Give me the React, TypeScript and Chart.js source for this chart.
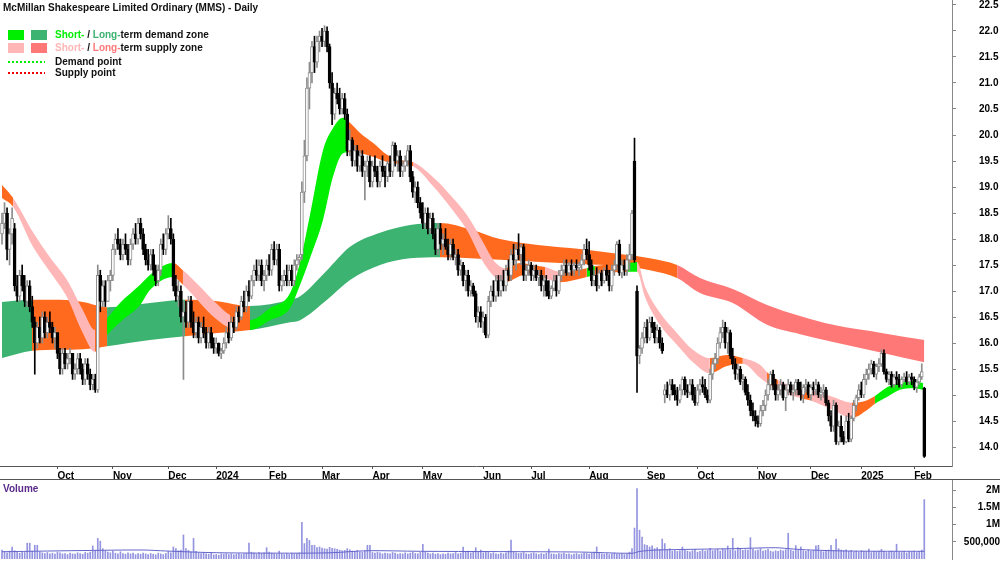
import { useEffect, useRef } from 'react';
import { Chart, registerables } from 'chart.js';

Chart.register(...registerables);

const titleText = 'McMillan Shakespeare Limited Ordinary (MMS) - Daily';

// month ticks (trading-day index of first session of month)
const monthTickIdx = [22, 44, 66, 85, 106, 127, 147, 167, 191, 210, 233, 256, 276, 300, 321, 341, 362];
const monthLabels = ['Oct', 'Nov', 'Dec', '2024', 'Feb', 'Mar', 'Apr', 'May', 'Jun', 'Jul', 'Aug', 'Sep', 'Oct', 'Nov', 'Dec', '2025', 'Feb'];

// volume axis ticks
const volumeTicks = [500000, 1000000, 1500000, 2000000];

// daily candles (index 0 = first session shown)
const opens = [
  18.1,18.3,18.5,17.8,18.1,18.2,17.1,16.9,17.3,17.1,
  16.8,17.1,16.7,16.4,16.0,16.3,16.1,16.5,16.2,16.4,
  16.3,16.1,16.2,15.8,15.5,15.8,15.6,15.7,15.8,15.4,
  15.5,15.7,15.5,15.3,15.6,15.4,15.2,15.3,15.1,17.3,
  16.8,17.1,16.8,17.2,17.3,17.8,18.0,17.9,17.7,17.9,
  17.8,17.6,17.9,18.1,18.0,18.3,18.1,17.8,17.6,17.5,
  17.7,17.4,17.2,17.4,17.9,17.8,18.1,18.2,18.0,17.1,
  16.9,17.0,16.5,16.6,16.4,16.8,16.4,16.2,16.4,16.1,
  16.3,16.2,16.0,16.2,16.0,15.9,16.0,15.8,15.85,16.0,
  16.2,16.1,16.4,16.3,16.6,16.5,16.8,16.7,17.0,16.9,
  17.2,17.4,17.3,17.5,17.2,17.3,17.5,17.4,17.8,17.6,
  17.8,17.1,17.2,17.3,17.2,17.4,17.2,17.5,17.6,17.7,
  18.9,19.6,20.9,21.2,21.7,21.4,21.8,21.9,21.8,22.0,
  21.7,21.0,20.4,20.8,20.7,20.5,20.7,20.4,19.7,19.9,
  19.5,19.7,19.4,19.6,19.3,19.4,19.5,19.1,19.4,19.3,
  19.1,19.4,19.3,19.2,19.45,19.3,19.8,19.5,19.6,19.3,
  19.4,19.5,19.7,19.2,18.9,19.0,18.7,18.5,18.3,18.5,
  18.2,18.4,18.1,17.8,18.2,17.9,18.0,17.85,17.7,17.9,
  17.65,17.7,17.4,17.5,17.2,17.3,17.0,17.1,16.95,16.5,
  16.6,16.4,16.5,16.15,16.8,17.0,16.9,17.2,17.0,17.2,
  17.1,17.4,17.3,17.7,17.6,17.8,17.7,17.85,17.3,17.4,
  17.5,17.3,17.4,17.25,17.3,17.1,17.2,17.0,16.9,17.05,
  17.2,17.0,17.3,17.4,17.5,17.35,17.5,17.4,17.5,17.45,
  17.5,17.6,17.8,17.7,17.5,17.2,17.3,17.1,17.35,17.2,
  17.4,17.3,17.1,17.4,17.5,17.9,17.35,17.5,17.4,17.6,
  17.7,19.5,17.0,15.75,15.9,16.1,16.3,16.1,16.4,16.3,
  16.1,16.25,16.0,15.0,15.1,15.0,15.2,15.1,15.0,14.9,
  15.1,15.3,15.1,15.05,15.2,15.0,14.85,15.1,15.2,15.15,
  15.0,14.9,15.4,15.6,15.7,16.0,16.2,16.3,16.0,16.2,
  15.75,15.6,15.4,15.5,15.25,15.3,15.05,14.9,14.7,14.6,
  14.5,14.45,14.7,14.8,15.0,15.2,15.4,15.2,15.0,15.1,
  15.2,14.95,15.1,15.2,15.05,15.1,15.25,15.1,15.0,15.15,
  15.2,15.0,15.15,15.1,15.2,15.0,15.05,15.1,14.85,14.6,
  14.4,14.8,14.1,14.4,14.2,14.1,14.5,14.15,14.55,14.8,
  14.95,15.1,15.0,15.3,15.4,15.5,15.6,15.4,15.55,15.6,
  15.8,15.45,15.3,15.4,15.2,15.35,15.3,15.2,15.3,15.35,
  15.25,15.35,15.3,15.15,15.25,15.35,15.13
];
const highs = [
  18.5,18.7,18.6,18.2,18.6,18.3,17.3,17.4,17.5,17.3,
  17.2,17.2,16.9,16.5,16.4,16.5,16.6,16.6,16.5,16.6,
  16.4,16.3,16.2,15.9,15.9,15.9,15.8,15.9,15.8,15.6,
  15.8,15.8,15.6,15.7,15.7,15.5,15.4,15.4,17.5,17.4,
  17.2,17.2,17.3,17.4,17.9,18.1,18.2,18.0,18.0,18.1,
  17.9,18.0,18.2,18.3,18.4,18.4,18.2,17.9,17.8,17.8,
  17.8,17.5,17.5,18.0,18.1,18.2,18.45,18.4,18.1,17.3,
  17.2,17.1,16.8,16.8,16.9,16.9,16.6,16.5,16.5,16.4,
  16.5,16.3,16.3,16.3,16.1,16.1,16.0,15.9,16.1,16.3,
  16.4,16.5,16.5,16.7,16.7,16.9,17.0,17.1,17.2,17.3,
  17.5,17.6,17.6,17.6,17.4,17.6,17.7,17.9,17.95,17.9,
  17.9,17.3,17.4,17.5,17.5,17.5,17.6,17.7,17.7,19.1,
  19.9,21.1,21.4,21.8,21.9,21.9,22.0,22.05,22.1,22.08,
  21.75,21.2,20.9,21.0,20.9,20.8,20.8,20.5,20.1,19.95,
  19.8,19.8,19.7,19.7,19.5,19.6,19.6,19.5,19.6,19.4,
  19.5,19.6,19.4,19.5,19.6,19.87,19.85,19.7,19.7,19.5,
  19.6,19.8,19.8,19.3,19.1,19.1,18.8,18.7,18.6,18.6,
  18.5,18.5,18.2,18.3,18.3,18.1,18.2,18.0,18.0,18.0,
  17.8,17.8,17.6,17.55,17.4,17.4,17.2,17.15,17.0,16.7,
  16.7,16.6,16.55,16.9,17.1,17.2,17.3,17.3,17.3,17.4,
  17.5,17.6,17.8,17.9,17.9,18.1,17.9,17.9,17.5,17.6,
  17.55,17.5,17.5,17.4,17.4,17.3,17.3,17.2,17.1,17.3,
  17.3,17.4,17.5,17.6,17.6,17.55,17.6,17.55,17.6,17.55,
  17.7,17.9,18.0,17.95,17.6,17.4,17.45,17.4,17.4,17.45,
  17.5,17.4,17.5,17.6,17.95,17.98,17.6,17.6,17.7,17.9,
  18.55,19.94,17.1,15.95,16.2,16.4,16.45,16.5,16.5,16.4,
  16.35,16.3,16.1,15.2,15.25,15.3,15.3,15.2,15.15,15.2,
  15.35,15.35,15.2,15.3,15.3,15.15,15.2,15.3,15.35,15.3,
  15.1,15.5,15.7,15.8,16.1,16.3,16.44,16.4,16.3,16.25,
  15.9,15.7,15.6,15.55,15.4,15.35,15.2,15.0,14.85,14.7,
  14.6,14.8,14.9,15.1,15.3,15.45,15.48,15.3,15.2,15.3,
  15.25,15.2,15.3,15.25,15.2,15.3,15.3,15.25,15.2,15.3,
  15.25,15.2,15.25,15.3,15.25,15.15,15.2,15.15,14.9,14.7,
  14.9,14.85,14.5,14.6,14.3,14.6,14.65,14.6,14.9,15.0,
  15.2,15.25,15.4,15.5,15.6,15.67,15.65,15.6,15.7,15.87,
  15.87,15.5,15.45,15.45,15.4,15.45,15.4,15.35,15.42,15.45,
  15.4,15.42,15.35,15.3,15.4,15.6,15.15
];
const lows = [
  17.9,18.2,17.6,17.5,17.9,17.0,16.8,16.8,17.0,16.7,
  16.7,16.6,16.3,15.4,15.9,16.0,16.0,16.1,16.1,16.2,
  16.0,15.9,15.7,15.4,15.4,15.5,15.5,15.6,15.3,15.3,
  15.4,15.4,15.2,15.2,15.3,15.1,15.1,15.05,15.05,16.6,
  16.7,16.7,16.8,17.0,17.2,17.7,17.8,17.6,17.6,17.7,
  17.5,17.5,17.8,17.9,17.9,18.0,17.7,17.5,17.4,17.4,
  17.3,17.1,17.1,17.3,17.7,17.7,18.0,17.9,17.0,16.8,
  16.7,16.4,15.3,16.3,16.3,16.3,16.1,16.1,16.0,16.0,
  16.1,15.9,15.9,15.9,15.8,15.8,15.75,15.7,15.8,15.9,
  16.0,16.05,16.2,16.25,16.4,16.45,16.6,16.6,16.8,16.85,
  17.1,17.2,17.2,17.1,17.0,17.2,17.3,17.3,17.5,17.5,
  17.0,17.0,17.1,17.1,17.1,17.1,17.1,17.4,17.5,17.6,
  18.7,19.5,20.5,21.0,21.2,21.3,21.6,21.7,21.7,21.6,
  20.9,20.2,20.3,20.6,20.4,20.4,20.3,19.6,19.6,19.4,
  19.4,19.3,19.3,19.2,18.75,19.2,19.0,19.0,19.2,19.0,
  19.0,19.2,19.0,19.1,19.2,19.2,19.4,19.3,19.2,19.2,
  19.3,19.4,19.1,18.8,18.7,18.6,18.4,18.2,18.2,18.1,
  18.1,18.0,17.7,17.7,17.8,17.7,17.8,17.6,17.6,17.6,
  17.5,17.3,17.3,17.1,17.0,16.9,16.9,16.9,16.4,16.3,
  16.3,16.2,16.1,16.1,16.7,16.8,16.8,16.9,16.9,17.0,
  17.0,17.2,17.2,17.5,17.4,17.6,17.5,17.2,17.2,17.3,
  17.2,17.2,17.2,17.1,17.0,16.9,16.9,16.85,16.85,17.0,
  16.9,16.95,17.2,17.3,17.3,17.3,17.3,17.3,17.4,17.3,
  17.4,17.5,17.6,17.4,17.1,17.1,17.0,17.05,17.1,17.15,
  17.2,17.0,17.0,17.3,17.4,17.3,17.25,17.3,17.3,17.4,
  17.6,17.55,15.05,15.6,15.8,16.0,16.0,16.05,16.2,16.0,
  16.0,15.9,15.8,14.85,14.95,14.9,15.0,14.9,14.8,14.85,
  15.0,15.0,14.95,15.0,14.9,14.8,14.8,15.0,15.05,14.95,
  14.85,14.85,15.3,15.5,15.6,15.9,16.1,15.9,15.8,15.7,
  15.5,15.3,15.3,15.2,15.1,15.0,14.8,14.6,14.5,14.4,
  14.38,14.4,14.6,14.7,14.9,15.1,15.1,14.9,14.9,15.0,
  14.9,14.7,15.0,15.0,14.9,15.0,15.0,14.9,14.85,15.05,
  14.95,14.9,15.0,15.0,14.95,14.9,14.95,14.8,14.5,14.3,
  14.3,14.05,14.04,14.1,14.05,14.08,14.1,14.1,14.5,14.7,
  14.9,14.95,14.95,15.2,15.3,15.4,15.35,15.3,15.45,15.55,
  15.4,15.25,15.2,15.15,15.15,15.2,15.15,15.15,15.25,15.2,
  15.2,15.2,15.1,15.05,15.2,15.3,13.8
];
const closes = [
  18.3,18.5,17.8,18.1,18.4,17.1,16.9,17.3,17.1,16.8,
  17.1,16.7,16.4,16.0,16.3,16.1,16.5,16.2,16.4,16.3,
  16.1,16.2,15.8,15.5,15.8,15.6,15.7,15.8,15.4,15.5,
  15.7,15.5,15.3,15.6,15.4,15.2,15.3,15.1,17.3,16.8,
  17.1,16.8,17.2,17.3,17.8,18.0,17.9,17.7,17.9,17.8,
  17.6,17.9,18.1,18.0,18.3,18.1,17.8,17.6,17.5,17.7,
  17.4,17.2,17.4,17.9,17.8,18.1,18.2,18.0,17.1,16.9,
  17.0,16.5,16.6,16.4,16.8,16.4,16.2,16.4,16.1,16.3,
  16.2,16.0,16.2,16.0,15.9,16.0,15.8,15.85,16.0,16.2,
  16.1,16.4,16.3,16.6,16.5,16.8,16.7,17.0,16.9,17.2,
  17.4,17.3,17.5,17.2,17.3,17.5,17.4,17.8,17.6,17.8,
  17.1,17.2,17.3,17.2,17.4,17.2,17.5,17.6,17.65,18.9,
  19.6,20.9,21.2,21.7,21.4,21.8,21.9,21.8,22.0,21.7,
  21.0,20.4,20.8,20.7,20.5,20.7,20.4,19.7,19.9,19.5,
  19.7,19.4,19.6,19.3,19.4,19.5,19.1,19.4,19.3,19.1,
  19.4,19.3,19.2,19.45,19.3,19.8,19.5,19.6,19.3,19.4,
  19.5,19.7,19.2,18.9,19.0,18.7,18.5,18.3,18.5,18.2,
  18.4,18.1,17.8,18.2,17.9,18.0,17.85,17.7,17.9,17.65,
  17.7,17.4,17.5,17.2,17.3,17.0,17.1,16.95,16.5,16.6,
  16.4,16.5,16.15,16.8,17.0,16.9,17.2,17.0,17.2,17.1,
  17.4,17.3,17.7,17.6,17.8,17.7,17.85,17.3,17.4,17.5,
  17.3,17.4,17.25,17.3,17.1,17.2,17.0,16.9,17.05,17.2,
  17.0,17.3,17.4,17.5,17.35,17.5,17.4,17.5,17.45,17.5,
  17.6,17.8,17.7,17.5,17.2,17.3,17.1,17.35,17.2,17.4,
  17.3,17.1,17.4,17.5,17.9,17.35,17.5,17.4,17.6,17.7,
  18.5,17.6,15.75,15.9,16.1,16.3,16.1,16.4,16.3,16.1,
  16.25,16.0,15.85,15.1,15.0,15.2,15.1,15.0,14.9,15.1,
  15.3,15.1,15.05,15.2,15.0,14.85,15.1,15.2,15.15,15.0,
  14.9,15.4,15.6,15.7,16.0,16.2,16.3,16.0,16.2,15.75,
  15.6,15.4,15.5,15.25,15.3,15.05,14.9,14.7,14.6,14.5,
  14.45,14.7,14.8,15.0,15.2,15.4,15.2,15.0,15.1,15.2,
  14.95,15.1,15.2,15.05,15.1,15.25,15.1,15.0,15.15,15.2,
  15.0,15.15,15.1,15.2,15.0,15.05,15.1,14.85,14.6,14.4,
  14.8,14.1,14.4,14.2,14.1,14.5,14.15,14.55,14.8,14.95,
  15.1,15.0,15.3,15.4,15.5,15.6,15.4,15.55,15.6,15.8,
  15.45,15.3,15.4,15.2,15.35,15.3,15.2,15.3,15.35,15.25,
  15.35,15.3,15.15,15.25,15.35,15.45,13.82
];

// daily volume, thousands of shares
const volumeThousands = [
  260,210,180,230,350,240,200,170,220,190,
  460,460,230,400,400,210,180,160,190,150,
  170,140,200,180,150,160,130,170,150,140,
  180,160,140,190,170,200,380,250,600,520,
  300,240,200,180,230,170,150,210,160,140,
  180,150,170,130,160,140,170,150,130,160,
  140,120,170,150,130,160,220,180,350,300,
  240,260,700,300,250,210,600,220,180,160,
  190,150,140,170,120,130,110,150,140,160,
  130,150,120,140,160,130,150,170,460,200,
  170,150,190,160,180,330,200,170,150,140,
  230,150,130,160,140,170,150,160,180,1070,
  450,600,540,400,400,330,350,320,300,290,
  340,310,300,280,260,240,250,300,270,230,
  220,250,210,200,230,400,400,190,170,200,
  180,150,170,160,150,190,170,140,160,150,
  180,150,170,200,160,150,190,430,200,170,
  150,170,140,160,130,150,140,170,150,160,
  190,150,170,350,200,230,180,210,330,200,
  260,180,210,190,160,180,150,140,170,150,
  180,230,550,200,180,160,170,190,150,140,
  160,180,150,130,160,140,170,290,150,140,
  130,160,150,170,140,150,120,140,160,130,
  150,170,160,140,180,200,350,170,150,140,
  160,130,150,170,140,150,160,130,150,200,
  300,900,2050,840,640,420,400,350,380,300,
  330,280,580,450,260,300,230,250,220,240,
  350,260,230,210,240,280,200,220,260,230,
  250,310,240,260,280,230,300,270,380,260,
  600,240,330,300,250,270,260,620,280,240,
  260,300,230,250,280,230,210,240,220,260,
  240,270,750,260,230,390,280,350,240,220,
  260,230,250,380,400,230,210,240,260,400,
  250,580,300,260,240,270,220,250,200,230,
  200,240,220,210,290,190,220,210,230,280,
  220,190,210,230,200,430,200,190,220,180,
  210,200,230,190,220,260,1730
];

// volume average line, read at knots (index, thousands)
const volumeAvgIdx = [0, 36, 56, 65, 85, 118, 131, 145, 166, 229, 250, 253, 260, 290, 307, 314, 321, 337, 366];
const volumeAvgThousands = [212, 250, 262, 233, 183, 170, 183, 241, 224, 203, 166, 220, 262, 300, 328, 290, 262, 230, 224];

// long-term zone edges at knots
const longZoneIdx = [0, 11.9, 23, 32.1, 41.7, 58.7, 72.6, 84.5, 98.4, 114.3, 118.3, 129, 138.1, 150, 161.9, 173.8, 185.7, 197.6, 213.5, 229.4, 245.2, 257.1, 267.9, 277, 290, 303.6, 316.7, 329.8, 349.6, 366];
const longZoneUpper = [16.79, 16.83, 16.83, 16.79, 16.69, 16.77, 16.83, 16.81, 16.71, 16.83, 16.9, 17.4, 17.85, 18.12, 18.27, 18.31, 18.19, 18.0, 17.88, 17.81, 17.71, 17.63, 17.5, 17.25, 17.04, 16.73, 16.52, 16.35, 16.19, 16.06];
const longZoneLower = [15.71, 15.85, 15.87, 15.88, 15.94, 16.06, 16.13, 16.19, 16.25, 16.4, 16.44, 16.83, 17.21, 17.5, 17.63, 17.65, 17.63, 17.6, 17.56, 17.52, 17.48, 17.4, 17.25, 16.96, 16.77, 16.35, 16.17, 16.02, 15.81, 15.63];
const longZoneState = ['demand', 'mixed', 'mixed', 'mixed', 'demand', 'demand', 'mixed', 'mixed', 'demand', 'demand', 'demand', 'demand', 'demand', 'demand', 'demand', 'mixed', 'mixed', 'mixed', 'mixed', 'mixed', 'mixed', 'mixed', 'supply', 'supply', 'supply', 'supply', 'supply', 'supply', 'supply'];

// short-term zone edges at knots
const shortZoneIdx = [0, 4.4, 12.3, 19.0, 25.8, 32.1, 36.9, 41.7, 46.8, 54.8, 58.7, 67.9, 71.8, 78.6, 84.5, 90.5, 98.4, 106.3, 114.3, 118.3, 122.2, 127.4, 131.3, 135.3, 137.3, 142.1, 147.2, 152.8, 157.9, 163.1, 171.0, 177.8, 184.5, 190.9, 195.6, 199.6, 205.6, 210.7, 215.5, 221.4, 232.1, 235.3, 248.4, 252.0, 255.2, 261.1, 267.9, 274.2, 280.9, 287.7, 294.0, 300.8, 303.6, 307.9, 316.7, 320.6, 329.8, 337.3, 343.3, 346.4, 351.2, 356.3, 361.5, 365.5];
const shortZoneUpper = [19.04, 18.79, 18.13, 17.65, 17.21, 16.63, 16.25, 16.48, 16.77, 17.12, 17.31, 17.54, 17.4, 17.08, 16.79, 16.54, 16.44, 16.67, 16.96, 17.56, 18.46, 19.71, 20.13, 20.33, 20.27, 20.04, 19.85, 19.62, 19.52, 19.48, 19.19, 18.85, 18.46, 17.94, 17.56, 17.44, 17.54, 17.5, 17.46, 17.37, 17.44, 17.48, 17.54, 17.56, 17.08, 16.58, 16.19, 15.87, 15.71, 15.77, 15.71, 15.58, 15.44, 15.29, 15.13, 15.1, 14.96, 14.85, 14.9, 14.98, 15.15, 15.23, 15.27, 15.23];
const shortZoneLower = [18.79, 18.62, 17.85, 17.37, 16.88, 16.19, 15.83, 16.15, 16.4, 16.73, 17.02, 17.27, 17.12, 16.77, 16.48, 16.29, 16.25, 16.44, 16.67, 17.12, 17.63, 18.37, 19.19, 19.65, 19.67, 19.65, 19.58, 19.48, 19.44, 19.4, 19.02, 18.62, 18.17, 17.56, 17.27, 17.17, 17.29, 17.35, 17.25, 17.17, 17.27, 17.31, 17.37, 17.37, 16.88, 16.35, 15.96, 15.63, 15.42, 15.56, 15.6, 15.33, 15.23, 15.1, 14.94, 14.9, 14.71, 14.56, 14.71, 14.83, 14.96, 15.1, 15.13, 15.1];
const shortZoneState = ['mixed', 'supply', 'supply', 'supply', 'supply', 'supply', 'mixed', 'demand', 'demand', 'demand', 'demand', 'mixed', 'supply', 'supply', 'supply', 'mixed', 'demand', 'demand', 'demand', 'demand', 'demand', 'demand', 'demand', 'demand', 'mixed', 'mixed', 'mixed', 'mixed', 'mixed', 'supply', 'supply', 'supply', 'supply', 'supply', 'supply', 'mixed', 'mixed', 'mixed', 'supply', 'mixed', 'demand', 'mixed', 'demand', 'supply', 'supply', 'supply', 'supply', 'supply', 'mixed', 'mixed', 'supply', 'supply', 'mixed', 'supply', 'mixed', 'supply', 'supply', 'mixed', 'mixed', 'demand', 'demand', 'demand', 'demand'];

const legendRows = [
  { lead: 'Short-', mid: ' / ', long: 'Long-', rest: 'term demand zone' },
  { lead: 'Short-', mid: ' / ', long: 'Long-', rest: 'term supply zone' },
];
const legendLines = ['Demand point', 'Supply point'];

// ---------- styles ----------
const FONT = 'Arial, "Liberation Sans", sans-serif';
const SHORT_GREEN = '#00ee00';
const LONG_GREEN = '#3cb371';
const SHORT_PINK = '#ffb6b6';
const LONG_RED = '#ff7878';
const ORANGE = '#ff6a1e';
const shortPalette: Record<string, string> = { demand: SHORT_GREEN, supply: SHORT_PINK, mixed: ORANGE };
const longPalette: Record<string, string> = { demand: LONG_GREEN, supply: LONG_RED, mixed: ORANGE };

const X_MIN = -0.8;
const X_MAX = 377;
const PRICE_MIN = 13.635;
const PRICE_MAX = 22.596;

function zoneDatasets(idx: number[], upper: number[], lower: number[], state: string[], palette: Record<string, string>, order: number) {
  return [
    {
      type: 'line',
      data: idx.map((x, k) => ({ x, y: upper[k] })),
      fill: '+1',
      backgroundColor: palette[state[0]],
      borderColor: 'rgba(0,0,0,0)',
      borderWidth: 0,
      pointRadius: 0,
      pointHoverRadius: 0,
      cubicInterpolationMode: 'monotone',
      order,
      segment: { backgroundColor: (ctx: any) => palette[state[ctx.p0DataIndex]] },
    },
    {
      type: 'line',
      data: idx.map((x, k) => ({ x, y: lower[k] })),
      fill: false,
      borderColor: 'rgba(0,0,0,0)',
      borderWidth: 0,
      pointRadius: 0,
      pointHoverRadius: 0,
      cubicInterpolationMode: 'monotone',
      order,
    },
  ];
}

// keep the vertical axis from adding label padding above/below the plot
function fitRightAxis(s: any) {
  s.width = 48;
  s.paddingTop = 0;
  s.paddingBottom = 0;
}

const overlayPlugin = {
  id: 'overlay',
  afterDraw(chart: any) {
    const ctx = chart.ctx as CanvasRenderingContext2D;
    ctx.save();
    ctx.textBaseline = 'middle';
    ctx.font = `bold 10px ${FONT}`;
    ctx.fillStyle = '#111';
    ctx.fillText(titleText, 3, 8);

    const boxes = [[SHORT_GREEN, LONG_GREEN], [SHORT_PINK, LONG_RED]];
    legendRows.forEach((r, k) => {
      const y = 30 + k * 13;
      ctx.fillStyle = boxes[k][0];
      ctx.fillRect(8, y, 16, 10);
      ctx.fillStyle = boxes[k][1];
      ctx.fillRect(31, y, 16, 10);
      let x = 55;
      const runs: [string, string][] = [[r.lead, boxes[k][0]], [r.mid, '#111'], [r.long, boxes[k][1]], [r.rest, '#111']];
      for (const [t, c] of runs) {
        ctx.fillStyle = c;
        ctx.fillText(t, x, y + 5);
        x += ctx.measureText(t).width;
      }
    });
    const dotCols = ['#00ee00', '#ee0000'];
    legendLines.forEach((t, k) => {
      const y = 62 + k * 11;
      ctx.strokeStyle = dotCols[k];
      ctx.lineWidth = 2;
      ctx.setLineDash([2, 2]);
      ctx.beginPath();
      ctx.moveTo(8, y);
      ctx.lineTo(45, y);
      ctx.stroke();
      ctx.setLineDash([]);
      ctx.fillStyle = '#111';
      ctx.fillText(t, 55, y);
    });
    ctx.strokeStyle = '#555';
    ctx.lineWidth = 1;
    ctx.beginPath();
    ctx.moveTo(0, 479.5);
    ctx.lineTo(1000, 479.5);
    ctx.stroke();
    ctx.restore();
  },
};

const volumeLabelPlugin = {
  id: 'volLabel',
  afterDraw(chart: any) {
    const ctx = chart.ctx as CanvasRenderingContext2D;
    ctx.save();
    ctx.textBaseline = 'middle';
    ctx.font = `bold 10px ${FONT}`;
    ctx.fillStyle = '#5a2a8a';
    ctx.fillText('Volume', 3, 9);
    ctx.restore();
  },
};

export default function App() {
  const priceRef = useRef<HTMLCanvasElement>(null);
  const volRef = useRef<HTMLCanvasElement>(null);

  useEffect(() => {
    document.body.style.margin = '0';
    Chart.defaults.font.family = FONT;
    Chart.defaults.font.size = 10;
    Chart.defaults.color = '#000';

    const idx = closes.map((_, i) => i);
    const isUp = (i: number) => closes[i] >= opens[i];

    const priceChart = new Chart(priceRef.current as HTMLCanvasElement, {
      type: 'bar',
      data: {
        datasets: [
          ...(zoneDatasets(longZoneIdx, longZoneUpper, longZoneLower, longZoneState, longPalette, 20) as any[]),
          ...(zoneDatasets(shortZoneIdx, shortZoneUpper, shortZoneLower, shortZoneState, shortPalette, 10) as any[]),
          {
            type: 'bar',
            data: idx.map((i) => ({ x: i, y: [lows[i], highs[i]] })),
            backgroundColor: idx.map((i) => (isUp(i) ? '#8c8c8c' : '#000000')),
            borderWidth: 0,
            barThickness: 1,
            grouped: false,
            order: 1,
          },
          {
            type: 'bar',
            data: idx.map((i) => ({ x: i, y: [opens[i], closes[i]] })),
            backgroundColor: idx.map((i) => (isUp(i) ? '#ffffff' : '#000000')),
            borderColor: idx.map((i) => (isUp(i) ? '#8c8c8c' : '#000000')),
            borderWidth: 1,
            borderSkipped: false,
            barThickness: 3,
            minBarLength: 1,
            grouped: false,
            order: 0,
          },
        ] as any,
      },
      options: {
        responsive: false,
        animation: false,
        layout: { padding: 0, autoPadding: false },
        plugins: { legend: { display: false }, tooltip: { enabled: false } },
        scales: {
          x: {
            type: 'linear',
            min: X_MIN,
            max: X_MAX,
            offset: false,
            afterBuildTicks: (s: any) => {
              s.ticks = monthTickIdx.map((v) => ({ value: v }));
            },
            afterFit: (s: any) => {
              s.height = 14;
            },
            ticks: {
              autoSkip: false,
              maxRotation: 0,
              minRotation: 0,
              align: 'start',
              padding: 1,
              color: '#000',
              font: { size: 10, weight: 'bold' },
              callback: (_v: any, i: number) => monthLabels[i] ?? '',
            },
            grid: { offset: false, drawOnChartArea: false, drawTicks: true, tickLength: 3, color: '#555' },
            border: { display: true, color: '#555' },
          },
          y: {
            type: 'linear',
            position: 'right',
            min: PRICE_MIN,
            max: PRICE_MAX,
            afterFit: fitRightAxis,
            ticks: {
              stepSize: 0.5,
              includeBounds: false,
              padding: 23,
              color: '#000',
              font: { size: 10, weight: 'bold' },
              callback: (v: any) => Number(v).toFixed(1),
            },
            grid: { drawOnChartArea: false, tickLength: 4, color: '#888' },
            border: { display: true, color: '#888' },
          },
        },
      } as any,
      plugins: [overlayPlugin],
    });

    const volChart = new Chart(volRef.current as HTMLCanvasElement, {
      type: 'bar',
      data: {
        datasets: [
          {
            type: 'line',
            data: volumeAvgIdx.map((x, k) => ({ x, y: volumeAvgThousands[k] * 1000 })),
            borderColor: '#6464cc',
            borderWidth: 1,
            pointRadius: 0,
            pointHoverRadius: 0,
            tension: 0.3,
            fill: false,
            order: 0,
          },
          {
            type: 'bar',
            data: idx.map((i) => ({ x: i, y: volumeThousands[i] * 1000 })),
            backgroundColor: '#9494e0',
            borderWidth: 0,
            barThickness: 1,
            grouped: false,
            order: 1,
          },
        ] as any,
      },
      options: {
        responsive: false,
        animation: false,
        layout: { padding: { top: 0, bottom: 3, left: 0, right: 0 }, autoPadding: false },
        plugins: { legend: { display: false }, tooltip: { enabled: false } },
        scales: {
          x: { type: 'linear', min: X_MIN, max: X_MAX, offset: false, display: false },
          y: {
            type: 'linear',
            position: 'right',
            min: 0,
            max: 2300000,
            afterFit: fitRightAxis,
            afterBuildTicks: (s: any) => {
              s.ticks = volumeTicks.map((v) => ({ value: v }));
            },
            ticks: {
              crossAlign: 'far',
              padding: 7,
              color: '#000',
              font: { size: 10, weight: 'bold' },
              callback: (v: any) => (v >= 1000000 ? `${v / 1000000}M` : Number(v).toLocaleString('en-US')),
            },
            grid: { drawOnChartArea: false, tickLength: 4, color: '#888' },
            border: { display: true, color: '#888' },
          },
        },
      } as any,
      plugins: [volumeLabelPlugin],
    });

    return () => {
      priceChart.destroy();
      volChart.destroy();
    };
  }, []);

  return (
    <div style={{ position: 'fixed', left: 0, top: 0, width: 1000, height: 562, background: '#fff' }}>
      <canvas ref={priceRef} width={1000} height={480} style={{ position: 'absolute', left: 0, top: 0 }} />
      <canvas ref={volRef} width={1000} height={82} style={{ position: 'absolute', left: 0, top: 480 }} />
    </div>
  );
}
